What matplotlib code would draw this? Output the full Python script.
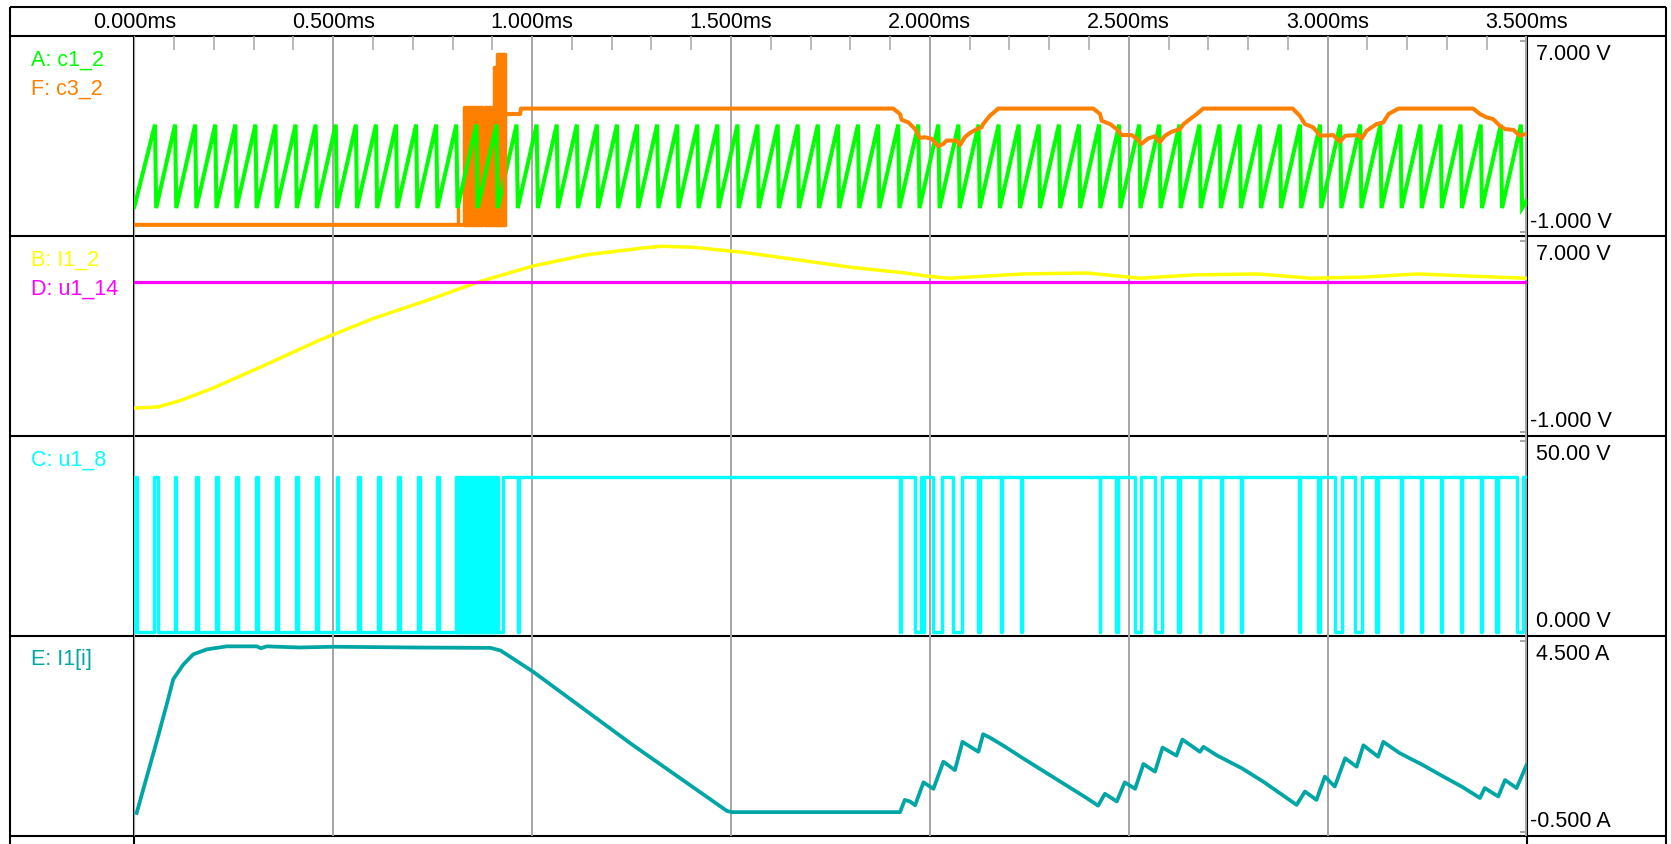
import matplotlib
matplotlib.use("Agg")
import matplotlib.pyplot as plt
import numpy as np
from matplotlib.ticker import MultipleLocator
from matplotlib.transforms import blended_transform_factory

plt.rcParams['font.family'] = ['Liberation Sans', 'DejaVu Sans']

# ---- time axis (ms) ----
t_max = 3.5
grid_ticks = [0.0, 0.5, 1.0, 1.5, 2.0, 2.5, 3.0, 3.5]
grid_labels = ["0.000ms", "0.500ms", "1.000ms", "1.500ms", "2.000ms",
               "2.500ms", "3.000ms", "3.500ms"]

# ---- A: c1_2, carrier sawtooth (peak times in ms, low/high in V) ----
saw_peaks = [0.052, 0.1025, 0.153, 0.2035, 0.254, 0.3045, 0.355, 0.4055,
             0.456, 0.5065, 0.557, 0.6075, 0.658, 0.7085, 0.759, 0.8095,
             0.86, 0.9105, 0.961, 1.0115, 1.062, 1.1125, 1.163, 1.2135,
             1.264, 1.3145, 1.365, 1.4155, 1.466, 1.5165, 1.567, 1.6175,
             1.668, 1.7185, 1.769, 1.8195, 1.87, 1.9205, 1.971, 2.0215,
             2.072, 2.1225, 2.173, 2.2235, 2.274, 2.3245, 2.375, 2.4255,
             2.476, 2.5265, 2.577, 2.6275, 2.678, 2.7285, 2.779, 2.8295,
             2.88, 2.9305, 2.981, 3.0315, 3.082, 3.1325, 3.183, 3.2335,
             3.284, 3.3345, 3.385, 3.4355, 3.486]
saw_lo, saw_hi = 0.0, 3.5
saw_start, saw_end = 0.05, 0.3

# ---- F: c3_2 ----
c3_t = [0.0, 0.932, 0.932, 0.970, 0.972,
        1.908, 1.925, 1.929, 1.946, 1.963, 1.975, 1.988, 2.005, 2.021, 2.034,
        2.042, 2.067, 2.076, 2.088, 2.101, 2.118, 2.130, 2.134, 2.151, 2.172,
        2.411, 2.428, 2.432, 2.453, 2.470, 2.482, 2.507, 2.520, 2.532, 2.549,
        2.566, 2.578, 2.591, 2.608, 2.629, 2.638, 2.654, 2.671, 2.687,
        2.912, 2.930, 2.943, 2.964, 2.981, 3.014, 3.031, 3.044, 3.077, 3.086,
        3.098, 3.123, 3.140, 3.153, 3.178,
        3.366, 3.383, 3.400, 3.416, 3.433, 3.446, 3.467, 3.483, 3.496, 3.5]
c3_v = [-0.7, -0.7, 3.94, 3.94, 4.17,
        4.17, 3.94, 3.70, 3.59, 3.31, 2.94, 2.97, 2.90, 2.59, 2.69,
        2.83, 2.83, 2.64, 2.97, 3.15, 3.31, 3.38, 3.52, 3.87, 4.17,
        4.17, 3.94, 3.66, 3.52, 3.31, 3.06, 3.06, 2.92, 2.69, 2.92,
        3.01, 2.76, 3.03, 3.20, 3.31, 3.52, 3.73, 3.94, 4.17,
        4.17, 3.87, 3.52, 3.38, 3.03, 3.06, 2.78, 3.03, 3.06, 2.92,
        3.24, 3.52, 3.59, 3.94, 4.17,
        4.17, 3.94, 3.80, 3.73, 3.45, 3.31, 3.28, 3.03, 3.10, 3.10]
# chattering at switch-over: (t_from, t_to, v_low, v_high)
c3_burst = [(0.813, 0.815, -0.7, 0.10), (0.830, 0.873, -0.7, 4.22),
            (0.882, 0.901, -0.7, 4.22), (0.905, 0.912, -0.7, 5.90),
            (0.912, 0.932, -0.7, 6.46)]

# ---- B: I1_2 and D: u1_14 ----
i12_t = [0.0, 0.060, 0.118, 0.198, 0.332, 0.466, 0.600, 0.734, 0.868,
         1.002, 1.136, 1.270, 1.323, 1.404, 1.538, 1.672, 1.806, 1.939,
         1.993, 2.047, 2.234, 2.395, 2.529, 2.663, 2.824, 2.958, 3.092,
         3.225, 3.359, 3.5]
i12_v = [0.0, 0.05, 0.33, 0.84, 1.83, 2.85, 3.75, 4.50, 5.30,
         5.95, 6.42, 6.69, 6.78, 6.74, 6.51, 6.20, 5.89, 5.66,
         5.53, 5.44, 5.62, 5.66, 5.44, 5.58, 5.62, 5.44, 5.49,
         5.62, 5.53, 5.44]
u114_level = 5.27

# ---- C: u1_8, switch voltage ----
u18_high = 40.5
# narrow on-pulses while the switch is mostly off
u18_on = [(0.0, 0.008), (0.049, 0.059), (0.102, 0.106), (0.155, 0.159),
          (0.206, 0.210), (0.256, 0.260), (0.306, 0.310), (0.357, 0.361),
          (0.407, 0.411), (0.457, 0.461), (0.509, 0.513), (0.563, 0.567),
          (0.613, 0.617), (0.663, 0.667), (0.714, 0.718), (0.761, 0.765)]
u18_burst = (0.810, 0.915)
u18_on_from = 0.928
# off-gaps while the switch is mostly on
u18_off = [(0.964, 0.966), (1.926, 1.928), (1.963, 1.979), (1.984, 1.986),
           (2.009, 2.030), (2.059, 2.080), (2.121, 2.126), (2.179, 2.181),
           (2.230, 2.232), (2.427, 2.429), (2.469, 2.474), (2.516, 2.532),
           (2.566, 2.583), (2.624, 2.629), (2.678, 2.680), (2.732, 2.734),
           (2.783, 2.785), (2.929, 2.931), (2.975, 2.980), (3.018, 3.035),
           (3.069, 3.086), (3.122, 3.127), (3.185, 3.187), (3.235, 3.237),
           (3.286, 3.288), (3.336, 3.338), (3.386, 3.388), (3.424, 3.429),
           (3.475, 3.492)]

# ---- E: I1[i], coil current (A) ----
i1_t = [0.006, 0.056, 0.081, 0.098, 0.123, 0.148, 0.182, 0.232, 0.308, 0.318,
        0.333, 0.417, 0.500, 0.700, 0.895, 0.921, 1.002, 1.250, 1.490, 1.503,
        1.925, 1.937, 1.950, 1.963, 1.984, 2.009, 2.034, 2.063, 2.082, 2.122,
        2.134, 2.151, 2.185, 2.231, 2.394, 2.423, 2.440, 2.470, 2.490, 2.516,
        2.537, 2.566, 2.585, 2.620, 2.635, 2.679, 2.688, 2.721, 2.784, 2.838,
        2.922, 2.943, 2.972, 2.993, 3.018, 3.044, 3.073, 3.090, 3.127, 3.140,
        3.182, 3.240, 3.291, 3.337, 3.383, 3.395, 3.429, 3.446, 3.475, 3.5]
i1_v = [0.0, 1.86, 2.82, 3.50, 3.88, 4.15, 4.28, 4.36, 4.36, 4.31,
        4.36, 4.33, 4.35, 4.33, 4.32, 4.25, 3.70, 1.80, 0.05, 0.02,
        0.02, 0.34, 0.30, 0.20, 0.80, 0.63, 1.34, 1.12, 1.86, 1.60,
        2.06, 1.97, 1.76, 1.45, 0.39, 0.19, 0.50, 0.30, 0.80, 0.63,
        1.28, 1.08, 1.71, 1.50, 1.92, 1.60, 1.73, 1.51, 1.17, 0.82,
        0.21, 0.56, 0.34, 0.95, 0.69, 1.43, 1.21, 1.77, 1.47, 1.86,
        1.56, 1.25, 0.95, 0.69, 0.39, 0.65, 0.43, 0.86, 0.65, 1.25]

# ---- panel scales and labels ----
ranges = [(-1.0, 7.0), (-1.0, 7.0), (0.0, 50.0), (-0.5, 4.5)]
top_labels = ["7.000 V", "7.000 V", "50.00 V", "4.500 A"]
bot_labels = ["-1.000 V", "-1.000 V", "0.000 V", "-0.500 A"]
names = [[("A: c1_2", "#00ff00"), ("F: c3_2", "#ff8000")],
         [("B: I1_2", "#ffff00"), ("D: u1_14", "#ff00ff")],
         [("C: u1_8", "#00ffff")],
         [("E: I1[i]", "#00a5a5")]]

# ---- layout in pixels ----
W, H = 1671, 845
frame_l, frame_r, frame_t = 10, 1666, 7.5
plot_l, plot_r = 134.3, 1526.5
rows = [37, 237, 437, 637, 837]
grid_col = "#a5a5a5"
fs = 15.5

fig = plt.figure(figsize=(W / 100, H / 100), dpi=100, facecolor="white")
bg = fig.add_axes([0, 0, 1, 1])
bg.set_xlim(0, W)
bg.set_ylim(H, 0)
bg.axis("off")

# table frame
blk = dict(color="black", lw=1.5, capstyle="butt")
bg.hlines([frame_t] + rows, frame_l, frame_r, **blk)
bg.vlines([frame_l, frame_r], frame_t, H, **blk)
bg.vlines([plot_l, plot_r], rows[0], H, **blk)

axes = []
for i in range(4):
    y0, y1 = rows[i], rows[i + 1]
    ax = fig.add_axes([plot_l / W, 1 - y1 / H, (plot_r - plot_l) / W, (y1 - y0) / H])
    lo, hi = ranges[i]
    span = hi - lo
    ax.set_xlim(0, t_max)
    ax.set_ylim(lo - 4 * span / 191, hi + 5 * span / 191)
    ax.patch.set_alpha(0)
    for s in ax.spines.values():
        s.set_visible(False)
    ax.set_xticks(grid_ticks)
    ax.xaxis.set_minor_locator(MultipleLocator(0.1))
    ax.grid(axis="x", which="major", color=grid_col, lw=1.4)
    ax.tick_params(axis="x", which="both", bottom=False, top=False,
                   labelbottom=False, labeltop=False)
    if i == 0:
        ax.tick_params(axis="x", which="minor", top=True, direction="in",
                       length=10, width=1.1, color=grid_col)
    ax.yaxis.tick_right()
    ax.set_yticks([lo, hi])
    ax.tick_params(axis="y", which="both", direction="in", length=5,
                   width=1.4, color=grid_col, labelright=False, left=False)
    ax.set_axisbelow(True)
    axes.append(ax)

    # value range labels at the right
    for lab, yy in ((top_labels[i], y0 + 18), (bot_labels[i], y1 - 15)):
        xx = 1530 if lab.startswith("-") else 1536.5
        bg.text(xx, yy, lab, fontsize=fs, ha="left", va="center", color="black")
    # trace names at the left
    for k, (nm, col) in enumerate(names[i]):
        bg.text(31, y0 + 23 + 29 * k, nm, fontsize=fs, ha="left", va="center", color=col)

# time labels in the header
hdr = blended_transform_factory(axes[0].transData, bg.transData)
for tv, lab in zip(grid_ticks, grid_labels):
    bg.text(tv, 22.5, lab, transform=hdr, fontsize=fs, ha="center", va="center")

# panel A: sawtooth and c3_2
st, sv = [0.0], [saw_start]
for p in saw_peaks:
    st += [p, p + 0.003]
    sv += [saw_hi, saw_lo]
st.append(t_max)
sv.append(saw_end)
ax = axes[0]
ax.plot(st, sv, color="#00ff00", lw=2.9, solid_joinstyle="miter")
ax.plot(c3_t, c3_v, color="#ff8000", lw=2.9)
for a, b, vlo, vhi in c3_burst:
    ax.fill_between([a, b], vlo, vhi, color="#ff8000", lw=2.5, edgecolor="#ff8000")

# panel B
ax = axes[1]
ax.plot(i12_t, i12_v, color="#ffff00", lw=2.5)
ax.axhline(u114_level, color="#ff00ff", lw=2.3)

# panel C: build the switching waveform from the pulse lists
ct, cv = [0.0], [0.0]
for a, b in u18_on:
    ct += [a, a, b, b]
    cv += [0.0, u18_high, u18_high, 0.0]
ct += [u18_on_from, u18_on_from]
cv += [0.0, u18_high]
for a, b in u18_off:
    ct += [a, a, b, b]
    cv += [u18_high, 0.0, 0.0, u18_high]
ct.append(t_max)
cv.append(u18_high)
ax = axes[2]
ax.plot(ct, cv, color="#00ffff", lw=2.4)
ax.fill_between(list(u18_burst), 0.0, u18_high, color="#00ffff", lw=2.4, edgecolor="#00ffff")

# panel E
ax = axes[3]
ax.plot(i1_t, i1_v, color="#00a5a5", lw=2.7)

fig.savefig("out.png", dpi=100, facecolor="white")
